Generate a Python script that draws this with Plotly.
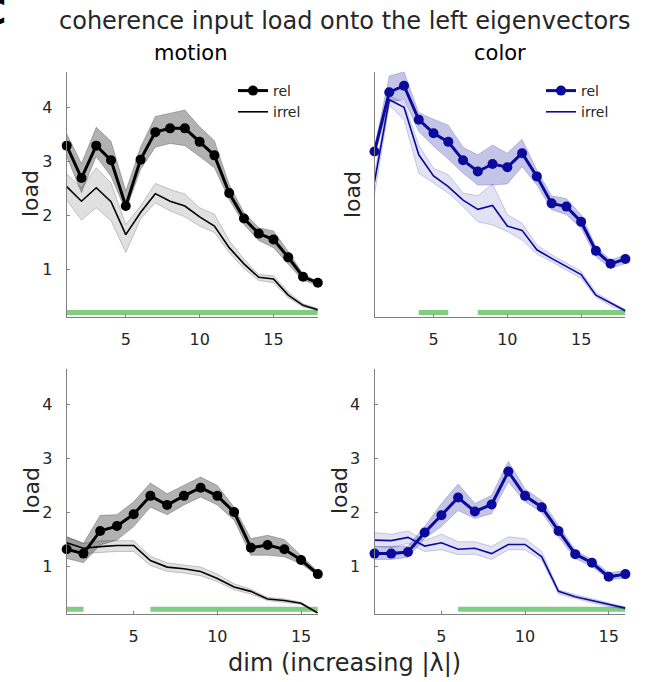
import plotly.graph_objects as go

# ---------------- data ----------------
x_top = list(range(1, 19))
x_bot = list(range(1, 17))

motion_top_rel = [3.29, 2.69, 3.29, 3.02, 2.17, 3.03, 3.54, 3.61, 3.61, 3.36, 3.11, 2.41, 1.94, 1.66, 1.55, 1.22, 0.86, 0.75]
motion_top_rel_hi = [3.51, 2.96, 3.63, 3.37, 2.45, 3.26, 3.83, 3.89, 3.95, 3.64, 3.38, 2.57, 2.05, 1.77, 1.71, 1.33, 0.91, 0.77]
motion_top_rel_lo = [3.09, 2.42, 3.09, 2.72, 2.08, 2.85, 3.26, 3.33, 3.29, 3.09, 2.88, 2.29, 1.83, 1.53, 1.40, 1.10, 0.79, 0.71]
motion_top_irr = [2.53, 2.26, 2.51, 2.25, 1.64, 2.05, 2.40, 2.26, 2.17, 1.97, 1.80, 1.40, 1.10, 0.85, 0.82, 0.52, 0.33, 0.25]
motion_top_irr_hi = [2.77, 2.51, 2.88, 2.60, 1.83, 2.17, 2.59, 2.48, 2.39, 2.14, 2.02, 1.53, 1.19, 0.90, 0.88, 0.58, 0.36, 0.27]
motion_top_irr_lo = [2.28, 1.91, 2.14, 1.90, 1.31, 1.93, 2.23, 2.08, 1.97, 1.80, 1.68, 1.31, 1.01, 0.79, 0.75, 0.47, 0.30, 0.23]

color_top_rel = [3.18, 4.28, 4.40, 3.77, 3.52, 3.36, 3.02, 2.81, 2.95, 2.89, 3.15, 2.72, 2.22, 2.16, 1.88, 1.34, 1.10, 1.19]
color_top_rel_hi = [3.26, 4.58, 4.66, 3.90, 3.78, 3.67, 3.26, 3.12, 3.30, 3.15, 3.41, 2.84, 2.36, 2.31, 2.01, 1.42, 1.17, 1.27]
color_top_rel_lo = [3.09, 4.10, 4.14, 3.55, 3.28, 3.04, 2.78, 2.56, 2.56, 2.58, 2.90, 2.56, 2.10, 2.01, 1.76, 1.23, 1.02, 1.10]
color_top_irr = [2.62, 4.14, 4.00, 3.12, 2.73, 2.53, 2.28, 2.11, 2.18, 1.80, 1.72, 1.36, 1.20, 1.05, 0.90, 0.52, 0.37, 0.23]
color_top_irr_hi = [2.78, 4.21, 4.09, 3.30, 2.87, 2.75, 2.41, 2.36, 2.58, 2.01, 1.85, 1.45, 1.27, 1.11, 0.96, 0.57, 0.40, 0.25]
color_top_irr_lo = [2.38, 4.04, 3.77, 2.78, 2.60, 2.41, 2.16, 1.88, 1.82, 1.70, 1.54, 1.28, 1.14, 0.99, 0.83, 0.48, 0.32, 0.21]

motion_bot_rel = [1.31, 1.23, 1.65, 1.74, 1.96, 2.30, 2.13, 2.30, 2.45, 2.30, 2.00, 1.34, 1.39, 1.31, 1.11, 0.85]
motion_bot_rel_hi = [1.54, 1.42, 1.94, 1.95, 2.19, 2.54, 2.34, 2.49, 2.65, 2.49, 2.09, 1.51, 1.57, 1.49, 1.20, 0.90]
motion_bot_rel_lo = [1.14, 1.06, 1.39, 1.48, 1.73, 2.09, 1.95, 2.13, 2.28, 2.13, 1.85, 1.20, 1.20, 1.17, 1.04, 0.82]
motion_bot_irr = [1.43, 1.33, 1.36, 1.38, 1.38, 1.10, 0.98, 0.95, 0.90, 0.77, 0.61, 0.53, 0.39, 0.36, 0.31, 0.13]
motion_bot_irr_hi = [1.54, 1.42, 1.47, 1.47, 1.47, 1.18, 1.06, 1.02, 0.98, 0.85, 0.67, 0.57, 0.42, 0.39, 0.33, 0.14]
motion_bot_irr_lo = [1.33, 1.23, 1.25, 1.27, 1.27, 1.01, 0.90, 0.87, 0.82, 0.71, 0.56, 0.48, 0.36, 0.33, 0.29, 0.12]

color_bot_rel = [1.23, 1.23, 1.26, 1.62, 1.94, 2.27, 2.01, 2.14, 2.75, 2.30, 2.09, 1.65, 1.22, 1.06, 0.80, 0.85]
color_bot_rel_hi = [1.36, 1.36, 1.37, 1.73, 2.16, 2.52, 2.16, 2.31, 2.94, 2.43, 2.21, 1.76, 1.29, 1.12, 0.88, 0.91]
color_bot_rel_lo = [1.12, 1.12, 1.16, 1.51, 1.73, 2.03, 1.88, 1.97, 2.56, 2.19, 1.99, 1.54, 1.14, 0.99, 0.75, 0.77]
color_bot_irr = [1.48, 1.47, 1.53, 1.37, 1.43, 1.31, 1.33, 1.23, 1.40, 1.40, 1.17, 0.53, 0.43, 0.36, 0.28, 0.22]
color_bot_irr_hi = [1.62, 1.59, 1.65, 1.47, 1.59, 1.45, 1.45, 1.36, 1.54, 1.51, 1.27, 0.56, 0.47, 0.39, 0.31, 0.24]
color_bot_irr_lo = [1.36, 1.34, 1.42, 1.27, 1.30, 1.21, 1.22, 1.12, 1.30, 1.30, 1.11, 0.48, 0.40, 0.32, 0.25, 0.20]

# significance segments (dim ranges)
sig_motion_top = [(1, 18)]
sig_color_top = [(4, 6), (8, 18)]
sig_motion_bot = [(1, 2), (6, 16)]
sig_color_bot = [(6, 16)]
sig_level = 0.2

y_range = [0.12, 4.66]
x_ticks = [5, 10, 15]
y_ticks = [1, 2, 3, 4]

# ---------------- style ----------------
FONT = "DejaVu Sans"
TXT = "#262626"
AX = "#808080"
BLACK = "#000000"
BLUE = "#0a0a9c"
GREEN = "#80cc80"

W, H = 645, 682
def px(x):
    return x / W
def py(y):
    return 1 - y / H

dom_x_left = [px(66.7), px(317.8)]
dom_x_right = [px(374.5), px(625.4)]
dom_y_top = [py(316.7), py(71.7)]
dom_y_bot = [py(613.5), py(368.5)]

fig = go.Figure()

panels = [
    ("x", "y", x_top, motion_top_rel, motion_top_rel_hi, motion_top_rel_lo,
     motion_top_irr, motion_top_irr_hi, motion_top_irr_lo, sig_motion_top, BLACK,
     "rgba(0,0,0,0.30)", "rgba(0,0,0,0.12)", "rgba(0,0,0,0.25)", "legend"),
    ("x2", "y2", x_top, color_top_rel, color_top_rel_hi, color_top_rel_lo,
     color_top_irr, color_top_irr_hi, color_top_irr_lo, sig_color_top, BLUE,
     "rgba(20,20,160,0.25)", "rgba(20,20,160,0.12)", "rgba(20,20,160,0.25)", "legend2"),
    ("x3", "y3", x_bot, motion_bot_rel, motion_bot_rel_hi, motion_bot_rel_lo,
     motion_bot_irr, motion_bot_irr_hi, motion_bot_irr_lo, sig_motion_bot, BLACK,
     "rgba(0,0,0,0.30)", "rgba(0,0,0,0.12)", "rgba(0,0,0,0.25)", None),
    ("x4", "y4", x_bot, color_bot_rel, color_bot_rel_hi, color_bot_rel_lo,
     color_bot_irr, color_bot_irr_hi, color_bot_irr_lo, sig_color_bot, BLUE,
     "rgba(20,20,160,0.25)", "rgba(20,20,160,0.12)", "rgba(20,20,160,0.25)", None),
]

for (xa, ya, xs, rel, rhi, rlo, irr, ihi, ilo, sig, col, brel, birr, iedge, leg) in panels:
    sx, sy = [], []
    for a, b in sig:
        sx += [a, b, None]
        sy += [sig_level, sig_level, None]
    fig.add_trace(go.Scatter(x=sx, y=sy, mode="lines", line=dict(color=GREEN, width=5),
                             xaxis=xa, yaxis=ya, showlegend=False, hoverinfo="skip"))
    fig.add_trace(go.Scatter(x=xs + xs[::-1], y=ihi + ilo[::-1], fill="toself",
                             fillcolor=birr, mode="lines", line=dict(color=iedge, width=0.8),
                             xaxis=xa, yaxis=ya, showlegend=False, hoverinfo="skip"))
    fig.add_trace(go.Scatter(x=xs + xs[::-1], y=rhi + rlo[::-1], fill="toself",
                             fillcolor=brel, mode="lines", line=dict(color=brel, width=0.8),
                             xaxis=xa, yaxis=ya, showlegend=False, hoverinfo="skip"))
    kw = dict(xaxis=xa, yaxis=ya, showlegend=leg is not None)
    if leg:
        kw["legend"] = leg
    fig.add_trace(go.Scatter(x=xs, y=irr, mode="lines", name="irrel",
                             line=dict(color=col, width=1.6), cliponaxis=False, **kw))
    fig.add_trace(go.Scatter(x=xs, y=rel, mode="lines+markers", name="rel",
                             line=dict(color=col, width=3),
                             marker=dict(color=col, size=10), cliponaxis=False, **kw))

axis_common = dict(showline=True, linecolor=AX, linewidth=1, showgrid=False, zeroline=False,
                   ticklen=3, tickcolor=AX, tickwidth=1,
                   tickfont=dict(family=FONT, size=16, color=TXT), mirror=False)

leg_common = dict(xanchor="left", yanchor="top", bgcolor="rgba(0,0,0,0)",
                  font=dict(family=FONT, size=14, color=TXT), traceorder="reversed",
                  itemwidth=30, tracegroupgap=0)

fig.update_layout(
    width=W, height=H, margin=dict(l=0, r=0, t=0, b=0),
    paper_bgcolor="white", plot_bgcolor="white",
    font=dict(family=FONT, color=TXT),
    xaxis=dict(domain=dom_x_left, anchor="y", range=[1, 18], tickvals=x_ticks, ticks="inside", ticklabelstandoff=8, **axis_common),
    yaxis=dict(domain=dom_y_top, anchor="x", range=y_range, tickvals=y_ticks, ticks="inside", ticklabelstandoff=10, **axis_common),
    xaxis2=dict(domain=dom_x_right, anchor="y2", range=[1, 18], tickvals=x_ticks, ticks="inside", ticklabelstandoff=8, **axis_common),
    yaxis2=dict(domain=dom_y_top, anchor="x2", range=y_range, tickvals=[], showticklabels=False, ticks="", **axis_common),
    xaxis3=dict(domain=dom_x_left, anchor="y3", range=[1, 16], tickvals=x_ticks, ticks="inside", ticklabelstandoff=8, **axis_common),
    yaxis3=dict(domain=dom_y_bot, anchor="x3", range=y_range, tickvals=y_ticks, ticks="inside", ticklabelstandoff=10, **axis_common),
    xaxis4=dict(domain=dom_x_right, anchor="y4", range=[1, 16], tickvals=x_ticks, ticks="inside", ticklabelstandoff=8, **axis_common),
    yaxis4=dict(domain=dom_y_bot, anchor="x4", range=y_range, tickvals=y_ticks, ticks="inside", ticklabelstandoff=10, **axis_common),
    legend=dict(x=px(233), y=py(75), **leg_common),
    legend2=dict(x=px(541), y=py(75), **leg_common),
    showlegend=True,
)

ann = []
ann.append(dict(text="coherence input load onto the left eigenvectors", x=px(345), y=py(21),
                xref="paper", yref="paper", showarrow=False, xanchor="center", yanchor="middle",
                font=dict(family=FONT, size=24, color=TXT)))
ann.append(dict(text="<b>C</b>", x=px(8), y=py(12), xref="paper", yref="paper", showarrow=False,
                xanchor="right", yanchor="middle", font=dict(family=FONT, size=36, color="black")))
ann.append(dict(text="motion", x=px(191), y=py(53), xref="paper", yref="paper", showarrow=False,
                xanchor="center", yanchor="middle", font=dict(family=FONT, size=21, color=BLACK)))
ann.append(dict(text="color", x=px(500), y=py(53), xref="paper", yref="paper", showarrow=False,
                xanchor="center", yanchor="middle", font=dict(family=FONT, size=21, color=BLACK)))
for (xc, yc) in [(31, 194), (353, 194), (31, 491), (339, 491)]:
    ann.append(dict(text="load", x=px(xc), y=py(yc), xref="paper", yref="paper", showarrow=False,
                    xanchor="center", yanchor="middle", textangle=-90,
                    font=dict(family=FONT, size=22, color=TXT)))
ann.append(dict(text="dim (increasing |λ|)", x=px(345), y=py(663), xref="paper", yref="paper",
                showarrow=False, xanchor="center", yanchor="middle",
                font=dict(family=FONT, size=24, color=TXT)))
fig.update_layout(annotations=ann)

fig.write_html("out.html")
